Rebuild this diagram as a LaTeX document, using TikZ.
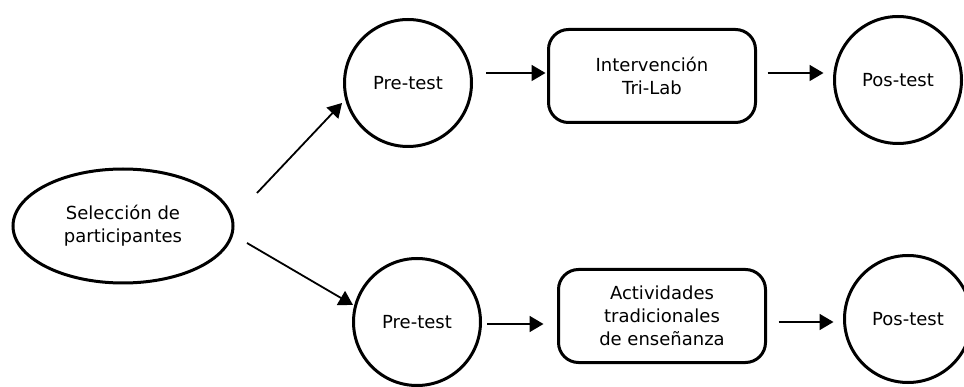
\documentclass[tikz,border=0pt]{standalone}
\usepackage{fontspec}
\setmainfont{DejaVu Sans}
\usetikzlibrary{shapes.geometric,arrows.meta,calc}
\begin{document}
\begin{tikzpicture}[x=1pt,y=-1pt,
  every node/.style={font=\fontsize{18}{23}\selectfont, align=center, inner sep=0pt},
  circ/.style={draw, circle, line width=3pt, minimum size=127pt},
  oval/.style={draw, ellipse, line width=3pt, minimum width=220pt, minimum height=114pt},
  card/.style={draw, rounded corners=20pt, line width=3pt, minimum width=207pt, minimum height=93pt},
  arr/.style={line width=1.8pt, -{Triangle[length=14pt,width=16pt]}}]
\useasboundingbox (0,0) rectangle (964,387);

% selection of participants
\node[oval] (sel) at (123,226) {Selección de\\participantes};

% upper branch
\node[circ] (pre1) at (408,83) {Pre-test};
\node[card] (box1) at (652,76) {Intervención\\Tri-Lab};
\node[circ] (pos1) at (898,80) {Pos-test};

% lower branch
\node[circ] (pre2) at (417,322) {Pre-test};
\node[card] (box2) at (662,316) {Actividades\\tradicionales\\de enseñanza};
\node[circ] (pos2) at (908,319) {Pos-test};

% connectors
\draw[arr] ($(sel.center)+(134,-33)$) -- ($(pre1.center)+(-66,20)$);
\draw[arr] ($(sel.center)+(124,17)$) -- ($(pre2.center)+(-64,-17)$);

\draw[arr] ($(pre1.center)+(78,-10)$) -- ($(box1.west)+(-1.5,-3)$);
\draw[arr] ($(box1.east)+(10.5,-3)$) -- ($(pos1.west)+(-9.5,-7)$);

\draw[arr] ($(pre2.center)+(70,2)$) -- ($(box2.west)+(-13.5,8)$);
\draw[arr] ($(box2.east)+(11.5,6)$) -- ($(pos2.west)+(-9.5,3)$);
\end{tikzpicture}
\end{document}
